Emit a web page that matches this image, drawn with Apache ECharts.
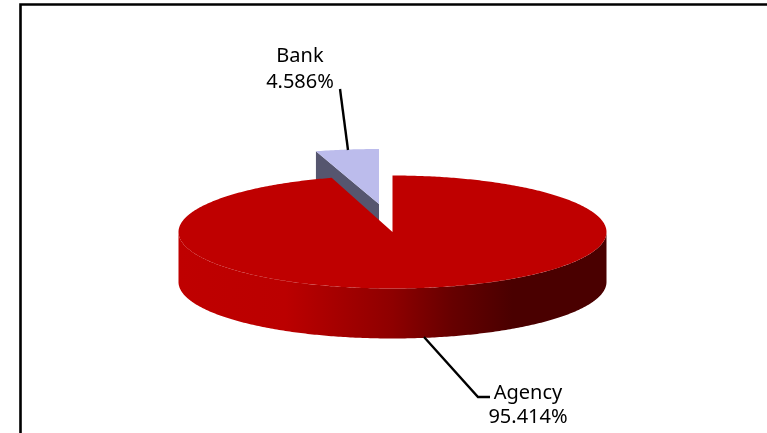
<!DOCTYPE html>
<html><head><meta charset="utf-8">
<style>html,body{margin:0;padding:0;background:#fff}#c{width:767px;height:433px}</style>
<script src="https://cdn.jsdelivr.net/npm/echarts@6/dist/echarts.min.js"></script>
</head><body><div id="c"></div>
<script>
const categories = ['Agency', 'Bank'];
const shares = [95.414, 4.586];
const shareLabels = ['95.414%', '4.586%'];

const FONT = '"Noto Sans"';
const layout = {
  Agency: {cx: 392.5, cy: 232, rx: 214, ry: 56.5, depth: 50,
    label: [528, 393, 417], leader: [[424,337],[478,397],[490,397]]},
  Bank: {cx: 379, cy: 204, rx: 222, ry: 55, depth: 50,
    label: [300, 56, 82], leader: [[340,89],[348,150]]}
};
const colors = {
  Agency: {top: '#bf0000'},
  Bank: {top: '#bcbcec', side: '#56566f'}
};
const total = shares.reduce((a, b) => a + b, 0);
function pt(l, deg, dy) {
  const r = deg * Math.PI / 180;
  return [l.cx + l.rx * Math.sin(r), l.cy - l.ry * Math.cos(r) + (dy || 0)];
}
function arc(l, a, b, dy) {
  const out = [], n = Math.max(2, Math.ceil(Math.abs(b - a) * 1.5));
  for (let i = 0; i <= n; i++) out.push(pt(l, a + (b - a) * i / n, dy));
  return out;
}
function renderItem(params, api) {
  const idx = params.dataIndex, name = categories[idx], l = layout[name], c = colors[name];
  let start = 0;
  for (let i = 0; i < idx; i++) start += shares[i];
  const a0 = start / total * 360, a1 = (start + api.value(0)) / total * 360;
  const kids = [];
  const base = idx === 1 ? 1 : 10;
  if (name === 'Agency') {
    const lo = Math.max(a0, 90), hi = Math.min(a1, 270);
    const front = arc(l, lo, hi, 0).concat(arc(l, hi, lo, l.depth));
    kids.push({type: 'polygon', z2: base, shape: {points: front}, style: {
      fill: new echarts.graphic.LinearGradient(l.cx - l.rx, 0, l.cx + l.rx, 0, [
        {offset: 0, color: '#bf0000'}, {offset: 0.25, color: '#bb0000'},
        {offset: 0.5, color: '#8e0000'}, {offset: 0.64, color: '#660000'},
        {offset: 0.78, color: '#4a0000'}, {offset: 1, color: '#4a0000'}
      ], true)}});
  } else {
    const e = pt(l, a0);
    kids.push({type: 'polygon', z2: base, shape: {points: [[l.cx, l.cy], e, [e[0], e[1] + l.depth], [l.cx, l.cy + l.depth]]},
      style: {fill: c.side}});
  }
  kids.push({type: 'polygon', z2: base + 1, shape: {points: [[l.cx, l.cy]].concat(arc(l, a0, a1, 0))}, style: {fill: c.top}});
  kids.push({type: 'polyline', z2: 20, shape: {points: l.leader}, style: {stroke: '#000', lineWidth: 2.4, fill: null}});
  kids.push({type: 'text', z2: 21, style: {x: l.label[0], y: l.label[1], text: name, fill: '#000', font: '20px ' + FONT, textAlign: 'center', textVerticalAlign: 'middle'}});
  kids.push({type: 'text', z2: 21, style: {x: l.label[0], y: l.label[2], text: shareLabels[idx], fill: '#000', font: '20px ' + FONT, textAlign: 'center', textVerticalAlign: 'middle'}});
  return {type: 'group', children: kids};
}
const chart = echarts.init(document.getElementById('c'), null, {renderer: 'canvas'});
chart.setOption({
  animation: false,
  backgroundColor: '#fff',
  graphic: [{type: 'polyline', shape: {points: [[20.5, 433], [20.5, 4.5], [767, 4.5]]},
    style: {stroke: '#000', lineWidth: 2.6, fill: null}}],
  series: [{type: 'custom', coordinateSystem: 'none', renderItem,
    data: shares.map((v, i) => ({name: categories[i], value: [v]}))}]
});
</script></body></html>
